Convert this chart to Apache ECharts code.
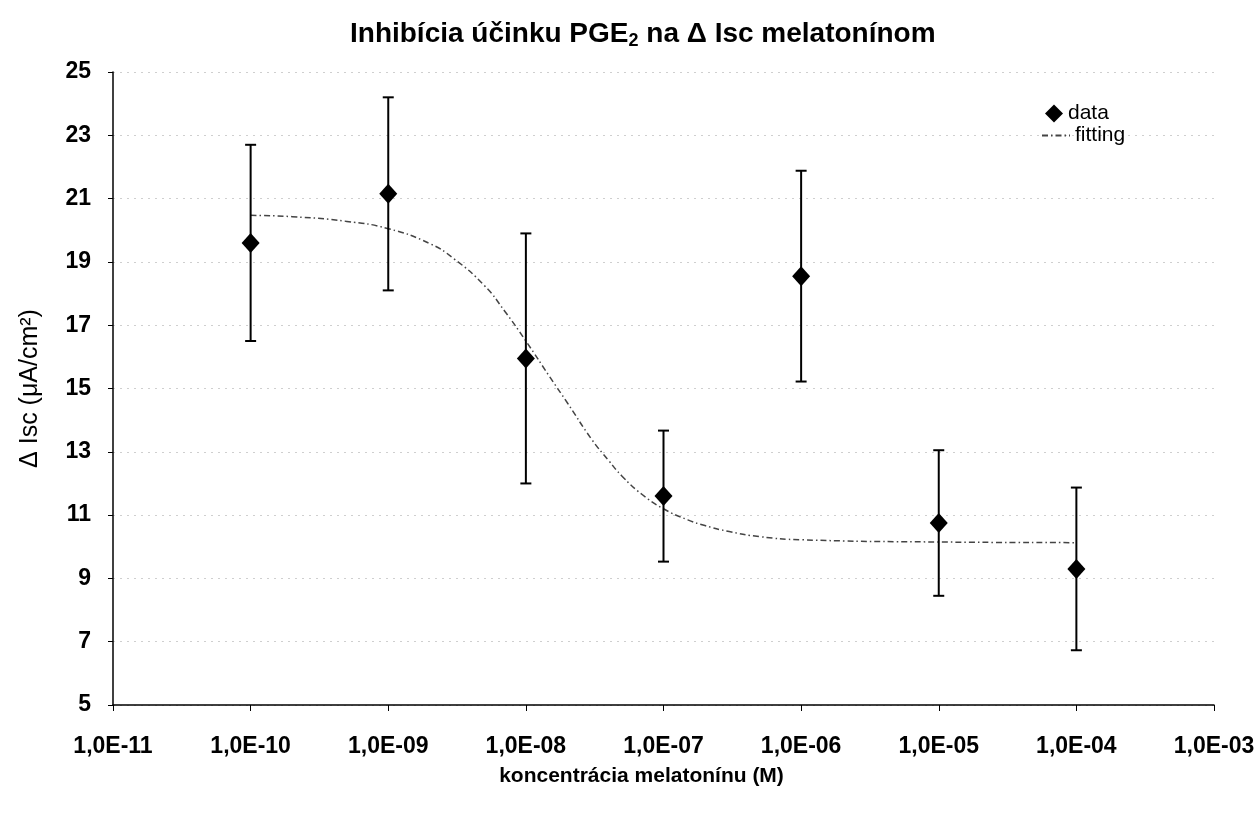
<!DOCTYPE html>
<html>
<head>
<meta charset="utf-8">
<script src="https://cdn.jsdelivr.net/npm/echarts@6/dist/echarts.min.js"></script>
<style>
  html, body { margin: 0; padding: 0; background: #fff; }
  #chart { width: 1260px; height: 815px; }
</style>
</head>
<body>
<div id="chart"></div>
<script>
// Melatonin concentrations (M) of the measured points
var concentrations = [1e-10, 1e-9, 1e-8, 1e-7, 1e-6, 1e-5, 1e-4];
// Mean ΔIsc (µA/cm²) and error half-widths
var meanIsc = [19.6, 21.15, 15.95, 11.6, 18.55, 10.75, 9.3];
var errIsc = [3.1, 3.05, 3.95, 2.07, 3.33, 2.3, 2.57];

// Fitted dose-response curve, sampled along the concentration axis
var fitConc = [1e-10, 2e-10, 5e-10, 1e-9, 2e-9, 3e-9, 5e-9, 7e-9, 1e-8, 1.5e-8, 2e-8, 3e-8, 4e-8, 5e-8, 7e-8, 1e-7, 1.5e-7, 2e-7, 3e-7, 5e-7, 1e-6, 1e-5, 1e-4];
var fitIsc = [20.47, 20.43, 20.28, 20.05, 19.58, 19.1, 18.25, 17.45, 16.5, 15.35, 14.55, 13.4, 12.72, 12.23, 11.65, 11.2, 10.85, 10.67, 10.48, 10.32, 10.22, 10.15, 10.13];

// Tick labels of the logarithmic concentration axis (1E-11 … 1E-03)
var xTickExponents = [-11, -10, -9, -8, -7, -6, -5, -4, -3];
var xTickLabels = ['1,0E-11', '1,0E-10', '1,0E-09', '1,0E-08', '1,0E-07', '1,0E-06', '1,0E-05', '1,0E-04', '1,0E-03'];

var FONT = '"Liberation Sans", Arial, sans-serif';

var pointData = concentrations.map(function (c, i) { return [c, meanIsc[i]]; });
var errorData = concentrations.map(function (c, i) { return [c, meanIsc[i] - errIsc[i], meanIsc[i] + errIsc[i]]; });
var fitData = fitConc.map(function (c, i) { return [c, fitIsc[i]]; });

var chart = echarts.init(document.getElementById('chart'), null, { renderer: 'canvas' });

chart.setOption({
  backgroundColor: '#ffffff',
  animation: false,
  textStyle: { fontFamily: FONT },
  title: {
    text: '{t|Inhibícia účinku PGE}{s|2}{t| na Δ Isc melatonínom}',
    left: 345,
    top: 13,
    textStyle: {
      rich: {
        t: { fontFamily: FONT, fontWeight: 'bold', fontSize: 28, color: '#000', lineHeight: 32 },
        s: { fontFamily: FONT, fontWeight: 'bold', fontSize: 18, color: '#000', lineHeight: 19, verticalAlign: 'bottom' }
      }
    }
  },
  legend: [
    {
      left: 1040,
      top: 98,
      itemWidth: 18,
      itemHeight: 18,
      textStyle: { fontFamily: FONT, fontSize: 21, color: '#000' },
      data: [{ name: 'data', icon: 'diamond' }]
    },
    {
      left: 1036,
      top: 120,
      itemWidth: 28,
      itemHeight: 14,
      itemGap: 4,
      textStyle: { fontFamily: FONT, fontSize: 21, color: '#000' },
      data: [{ name: 'fitting', itemStyle: { opacity: 0 } }]
    }
  ],
  grid: { left: 113, right: 46, top: 72, bottom: 110 },
  xAxis: {
    type: 'log',
    logBase: 10,
    min: 1e-11,
    max: 1e-3,
    interval: 1,
    name: 'koncentrácia melatonínu (M)',
    nameLocation: 'middle',
    nameGap: 61,
    nameTextStyle: { fontFamily: FONT, fontWeight: 'bold', fontSize: 21, color: '#000', padding: [0, 44, 0, 0] },
    axisLine: { lineStyle: { color: '#000', width: 1.5 } },
    axisTick: { show: true, inside: false, length: 6, lineStyle: { color: '#000', width: 1 } },
    minorTick: { show: false },
    splitLine: { show: false },
    axisLabel: {
      margin: 30,
      fontFamily: FONT,
      fontWeight: 'bold',
      fontSize: 23,
      color: '#000',
      formatter: function (v) {
        var e = Math.round(Math.log10(v));
        var idx = xTickExponents.indexOf(e);
        return idx >= 0 ? xTickLabels[idx] : '';
      }
    }
  },
  yAxis: {
    type: 'value',
    min: 5,
    max: 25,
    interval: 2,
    name: 'Δ Isc (μA/cm²)',
    nameLocation: 'middle',
    nameGap: 70,
    nameRotate: 90,
    nameTextStyle: { fontFamily: FONT, fontSize: 25, color: '#000' },
    axisLine: { show: true, lineStyle: { color: '#000', width: 1.5 } },
    axisTick: { show: true, inside: false, length: 5, lineStyle: { color: '#000', width: 1 } },
    splitLine: { show: true, lineStyle: { color: '#cfcfcf', type: [2, 5], width: 1 } },
    axisLabel: {
      margin: 22,
      fontFamily: FONT,
      fontWeight: 'bold',
      fontSize: 23,
      color: '#000'
    }
  },
  series: [
    {
      name: 'fitting',
      type: 'line',
      data: fitData,
      smooth: true,
      showSymbol: false,
      lineStyle: { color: '#444', width: 1.5, type: [6, 3, 1.5, 3] },
      itemStyle: { color: '#444' },
      z: 2
    },
    {
      name: 'error',
      type: 'custom',
      data: errorData,
      z: 3,
      renderItem: function (params, api) {
        var x = api.value(0);
        var lo = api.coord([x, api.value(1)]);
        var hi = api.coord([x, api.value(2)]);
        var half = 5.5;
        var style = { stroke: '#000', lineWidth: 2 };
        return {
          type: 'group',
          children: [
            { type: 'line', shape: { x1: lo[0], y1: lo[1], x2: hi[0], y2: hi[1] }, style: style },
            { type: 'line', shape: { x1: lo[0] - half, y1: lo[1], x2: lo[0] + half, y2: lo[1] }, style: style },
            { type: 'line', shape: { x1: hi[0] - half, y1: hi[1], x2: hi[0] + half, y2: hi[1] }, style: style }
          ]
        };
      },
      encode: { x: 0, y: [1, 2] }
    },
    {
      name: 'data',
      type: 'scatter',
      data: pointData,
      symbol: 'diamond',
      symbolSize: [18, 20],
      itemStyle: { color: '#000', opacity: 1 },
      z: 4
    }
  ]
});
</script>
</body>
</html>
